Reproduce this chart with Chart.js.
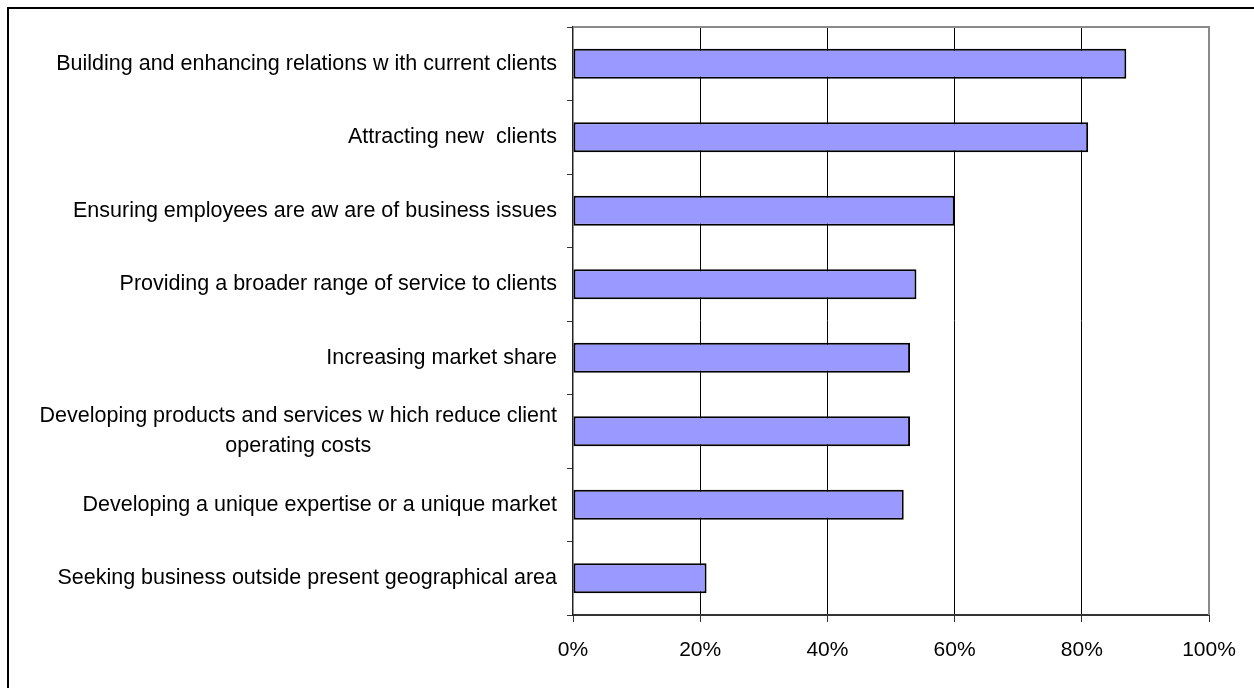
<!DOCTYPE html>
<html>
<head>
<meta charset="utf-8">
<title>Business priorities</title>
<script src="https://cdn.jsdelivr.net/npm/chart.js@4.4.1/dist/chart.umd.min.js"></script>
<style>
  html, body { margin: 0; padding: 0; background: #fff; }
  #wrap { position: relative; width: 1254px; height: 688px; overflow: hidden; }
  #frame { position: absolute; left: 7px; top: 7px; width: 1300px; height: 740px; border: 2px solid #000; }
  #chart { position: absolute; left: 0; top: 0; }
</style>
</head>
<body>
<div id="wrap">
  <div id="frame"></div>
  <canvas id="chart" width="1254" height="688"></canvas>
</div>
<script>
// Priorities, top to bottom
const categories = [
  'Building and enhancing relations w ith current clients',
  'Attracting new  clients',
  'Ensuring employees are aw are of business issues',
  'Providing a broader range of service to clients',
  'Increasing market share',
  ['Developing products and services w hich reduce client', 'operating costs'],
  'Developing a unique expertise or a unique market',
  'Seeking business outside present geographical area'
];

// Share of respondents (%)
const shares = [87, 81, 60, 54, 53, 53, 52, 21];

const xTicks = [0, 20, 40, 60, 80, 100];

const labelFont = '21.5px "Liberation Sans", Arial, sans-serif';

// grey border round the plot area
const plotFrame = {
  id: 'plotFrame',
  beforeDatasetsDraw(chart) {
    const { ctx, chartArea: a } = chart;
    ctx.save();
    ctx.strokeStyle = '#8a8a8a';
    ctx.lineWidth = 2;
    ctx.beginPath();
    ctx.moveTo(a.left, a.top);
    ctx.lineTo(a.right, a.top);
    ctx.lineTo(a.right, a.bottom);
    ctx.stroke();
    ctx.restore();
  }
};

// category labels: blocks right aligned, lines centred inside each block
const categoryLabels = {
  id: 'categoryLabels',
  afterDraw(chart) {
    const { ctx } = chart;
    const y = chart.scales.y;
    const right = y.right - 16;
    const lineGap = 30;
    ctx.save();
    ctx.font = labelFont;
    ctx.fillStyle = '#000';
    ctx.textAlign = 'center';
    ctx.textBaseline = 'middle';
    categories.forEach((lab, i) => {
      const lines = Array.isArray(lab) ? lab : [lab];
      const w = Math.max(...lines.map(l => ctx.measureText(l).width));
      const cx = right - w / 2;
      const cy = y.getPixelForTick(i);
      lines.forEach((l, k) => {
        ctx.fillText(l, cx, cy + (k - (lines.length - 1) / 2) * lineGap);
      });
    });
    ctx.restore();
  }
};

const ctx = document.getElementById('chart').getContext('2d');
new Chart(ctx, {
  type: 'bar',
  data: {
    labels: categories,
    datasets: [{
      data: shares,
      backgroundColor: '#9999ff',
      borderColor: '#000',
      borderWidth: 2,
      borderSkipped: false,
      barPercentage: 0.41,
      categoryPercentage: 1
    }]
  },
  options: {
    indexAxis: 'y',
    responsive: false,
    animation: false,
    events: [],
    layout: { padding: { top: 27, right: 45, left: 0, bottom: 0 } },
    plugins: {
      legend: { display: false },
      tooltip: { enabled: false }
    },
    scales: {
      x: {
        min: 0,
        max: 100,
        afterBuildTicks: (scale) => { scale.ticks = xTicks.map(v => ({ value: v })); },
        afterFit: (scale) => { scale.height = 73; },
        ticks: {
          color: '#000',
          font: { family: '"Liberation Sans", Arial, sans-serif', size: 21 },
          padding: 16,
          maxRotation: 0,
          callback: (v) => v + '%'
        },
        grid: {
          color: (c) => (c.tick && (c.tick.value === 0 || c.tick.value === 100)) ? 'rgba(0,0,0,0)' : '#000',
          lineWidth: 1,
          tickColor: '#333',
          tickLength: 7
        },
        border: { display: true, color: '#333', width: 2 }
      },
      y: {
        afterFit: (scale) => { scale.width = 573; },
        ticks: { display: false },
        grid: {
          offset: true,
          drawOnChartArea: false,
          tickColor: '#333',
          tickLength: 6
        },
        border: { display: true, color: '#222', width: 1.5 }
      }
    }
  },
  plugins: [plotFrame, categoryLabels]
});
</script>
</body>
</html>
